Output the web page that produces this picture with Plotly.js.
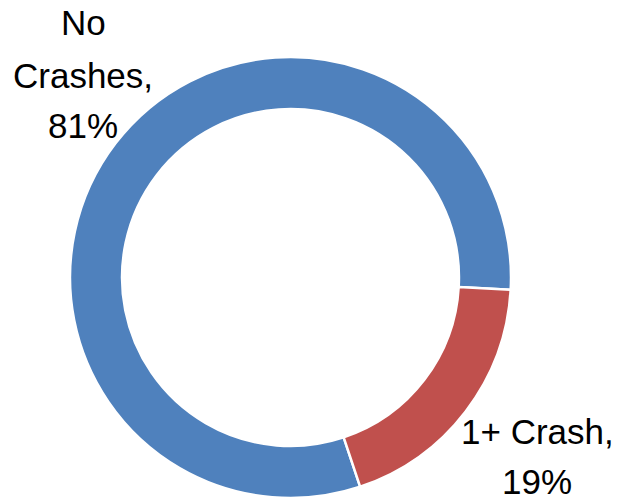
<!DOCTYPE html>
<html>
<head>
<meta charset="utf-8">
<script src="https://cdn.plot.ly/plotly-3.0.1.min.js"></script>
<style>html,body{margin:0;padding:0;background:#fff;}#chart{width:619px;height:500px;}</style>
</head>
<body>
<div id="chart"></div>
<script>
// Data
const labelWords = [['No', 'Crashes'], ['1+ Crash']];
const labels = labelWords.map(w => w.join(' '));
const values = [81, 19];
const colors = ['#4F81BD', '#C0504D'];

// Layout geometry (pixels)
const W = 619, H = 500;
const M = {l: 70, r: 108, t: 57, b: 2};
const plotW = W - M.l - M.r, plotH = H - M.t - M.b;
const px2x = px => (px - M.l) / plotW;
const py2y = py => (H - M.b - py) / plotH;

// Label line positions: centre x, and vertical centres of each line (pixels)
const labelPos = [
  {x: 83, ys: [23, 75, 126]},
  {x: 537, ys: [431, 481]}
];

const annotations = [];
labels.forEach((lab, i) => {
  const words = labelWords[i].slice();
  const lines = i === 0 ? [words[0], words[1] + ','] : [words[0] + ','];
  lines.push(values[i] + '%');
  lines.forEach((ln, j) => {
    annotations.push({
      text: ln, xref: 'paper', yref: 'paper',
      x: px2x(labelPos[i].x), y: py2y(labelPos[i].ys[j]),
      xanchor: 'center', yanchor: 'middle', showarrow: false,
      font: {family: 'Liberation Sans, Arial, sans-serif', size: 35, color: '#000'}
    });
  });
});

const trace = {
  type: 'pie',
  labels: labels,
  values: values,
  hole: 0.764,
  sort: false,
  direction: 'clockwise',
  rotation: 161.6,
  textinfo: 'none',
  hoverinfo: 'label+percent',
  marker: {colors: colors, line: {color: '#FFFFFF', width: 2.5}},
  showlegend: false
};

Plotly.newPlot('chart', [trace], {
  width: W, height: H,
  margin: M,
  paper_bgcolor: '#fff',
  plot_bgcolor: '#fff',
  showlegend: false,
  annotations: annotations
}, {displayModeBar: false, staticPlot: true});
</script>
</body>
</html>
